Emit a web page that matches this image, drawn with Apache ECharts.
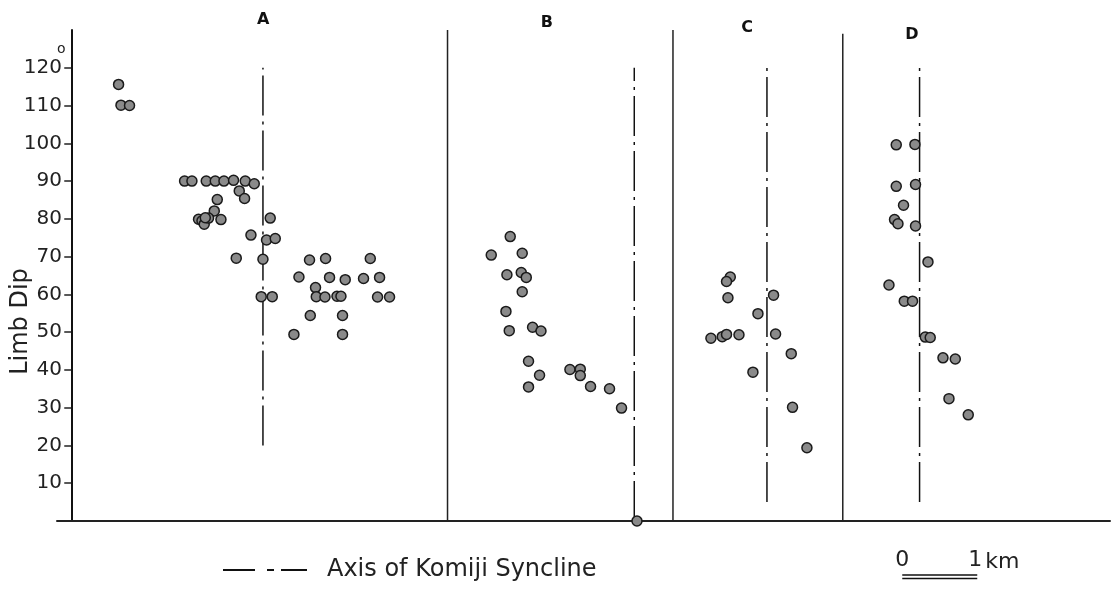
<!DOCTYPE html>
<html>
<head>
<meta charset="utf-8">
<script src="https://cdn.jsdelivr.net/npm/echarts@6/dist/echarts.min.js"></script>
<title>Limb Dip - Komiji Syncline</title>
<style>
    html, body { margin: 0; padding: 0; background: #fff; }
    #main { width: 1115px; height: 589px; }
</style>
</head>
<body>
<div id="main"></div>
<script type="text/javascript">
// distance along section in km (0 = dip axis), limb dip in degrees
var groupA = [
    [0.631, 115.6], [0.663, 110.1], [0.777, 110.0],
    [1.511, 90.0], [1.609, 90.0], [1.800, 90.0], [1.920, 90.0], [2.036, 90.0],
    [2.164, 90.2], [2.320, 90.0], [2.440, 89.3],
    [2.240, 87.4], [2.311, 85.4], [1.947, 85.1], [1.907, 82.1],
    [1.697, 79.9], [1.743, 79.5], [1.773, 78.6], [1.831, 80.2], [1.787, 80.3],
    [1.996, 79.8], [2.653, 80.2],
    [2.396, 75.7], [2.604, 74.4], [2.720, 74.8],
    [2.200, 69.6], [2.556, 69.3], [3.177, 69.1], [3.391, 69.5], [3.987, 69.5],
    [3.036, 64.6], [3.444, 64.5], [3.653, 63.9], [3.897, 64.2], [4.111, 64.5],
    [3.257, 61.8],
    [2.533, 59.4], [2.680, 59.4], [3.267, 59.4], [3.383, 59.3], [3.543, 59.5],
    [3.596, 59.5], [4.084, 59.3], [4.244, 59.3],
    [3.187, 54.4], [3.617, 54.4], [2.969, 49.4], [3.617, 49.4]
];
var groupB = [
    [5.853, 75.3], [5.600, 70.4], [6.013, 70.9], [5.809, 65.2], [6.000, 65.8],
    [6.067, 64.5], [6.013, 60.7], [5.796, 55.5], [5.840, 50.4], [6.151, 51.3],
    [6.263, 50.3], [6.097, 42.3], [6.244, 38.6], [6.097, 35.5], [6.649, 40.1],
    [6.787, 40.2], [6.787, 38.5], [6.924, 35.6], [7.177, 35.0], [7.337, 29.9],
    [7.543, 0]
];
var groupC = [
    [8.787, 64.6], [8.737, 63.4], [8.756, 59.1], [9.364, 59.8], [9.156, 54.9],
    [8.529, 48.4], [8.680, 48.8], [8.737, 49.4], [8.903, 49.3], [9.391, 49.5],
    [9.600, 44.3], [9.089, 39.4], [9.617, 30.1], [9.809, 19.4]
];
var groupD = [
    [11.000, 99.6], [11.249, 99.7], [11.000, 88.6], [11.257, 89.1], [11.097, 83.6],
    [10.977, 79.8], [11.023, 78.7], [11.257, 78.1], [11.423, 68.6], [10.903, 62.5],
    [11.107, 58.2], [11.217, 58.2], [11.387, 48.7], [11.453, 48.6], [11.623, 43.2],
    [11.787, 42.9], [11.703, 32.4], [11.960, 28.1]
];

var panelNames = ['A', 'B', 'C', 'D'];
var panelLabelX = [2.56, 6.34, 9.01, 11.21];
var panelLabelY = [132.7, 131.9, 130.6, 128.8];

var synclineX = [2.556, 7.507, 9.276, 11.311];
var synclineBottom = [20, 0, 5, 5];
var synclineTop = 120;

var dividerX = [5.017, 8.023, 10.287];
var dividerTop = [130, 130, 129];

var yTicks = [10, 20, 30, 40, 50, 60, 70, 80, 90, 100, 110, 120];
var scaleStart = 11.08;   // km where the scale bar starts
var legendName = 'Axis of Komiji Syncline';

var chart = echarts.init(document.getElementById('main'));

var series = [];
[groupA, groupB, groupC, groupD].forEach(function (g, i) {
    series.push({
        name: panelNames[i],
        type: 'scatter',
        data: g,
        symbol: 'circle',
        symbolSize: 10,
        clip: false,
        z: 3,
        itemStyle: { color: '#8a8a8a', borderColor: '#1a1a1a', borderWidth: 1.5, opacity: 1 }
    });
});
synclineX.forEach(function (x, i) {
    series.push({
        name: legendName,
        type: 'line',
        data: [[x, synclineBottom[i]], [x, synclineTop]],
        symbol: 'none',
        color: '#111',
        z: 1,
        lineStyle: { color: '#111', width: 1.5, type: [40, 6, 3, 6] }
    });
});
dividerX.forEach(function (x, i) {
    series.push({
        name: 'divider',
        type: 'line',
        data: [[x, 0], [x, dividerTop[i]]],
        symbol: 'none',
        color: '#222',
        z: 1,
        lineStyle: { color: '#222', width: 1.5 }
    });
});

var option = {
    animation: false,
    backgroundColor: '#fff',
    textStyle: { fontFamily: 'DejaVu Sans' },
    grid: { left: 57, right: 5, top: 30, bottom: 68, outerBoundsMode: 'none', containLabel: false },
    legend: {
        data: [{
            name: legendName,
            // long dash - short dash - long dash sample
            icon: 'path://M0,0H32V2H0Z M44,0H51V2H44Z M58,0H84V2H58Z'
        }],
        left: 218,
        top: 553,
        itemWidth: 84,
        itemHeight: 2,
        itemStyle: { color: '#111', borderWidth: 0 },
        textStyle: { fontSize: 24, color: '#222', fontFamily: 'DejaVu Sans', padding: [0, 0, 0, 15] }
    },
    xAxis: {
        type: 'value',
        min: -0.19,
        max: 13.85,
        axisLine: { show: true, onZero: true, lineStyle: { color: '#222', width: 2 } },
        axisTick: { show: false },
        axisLabel: { show: false },
        splitLine: { show: false }
    },
    yAxis: {
        type: 'value',
        min: 0,
        max: 130,
        interval: 10,
        name: 'Limb Dip',
        nameLocation: 'middle',
        nameGap: 24,
        nameMoveOverlap: false,
        nameTextStyle: { fontSize: 24, color: '#222', fontFamily: 'DejaVu Sans', padding: [0, 92, 0, 0] },
        axisLine: { show: true, onZero: true, lineStyle: { color: '#111', width: 2 } },
        axisTick: { show: true, length: 7, customValues: yTicks, lineStyle: { color: '#222', width: 1.5 } },
        // labels are laid out from the grid edge, which sits left of the axis line
        axisLabel: { margin: -5, fontSize: 20, color: '#222', customValues: yTicks,
            formatter: function (v) { return (v > 0 && v <= 120) ? String(v) : ''; } },
        splitLine: { show: false }
    },
    series: series
};
chart.setOption(option);

// panel letters, degree sign and km scale bar placed through the axes
var graphics = [];
panelNames.forEach(function (n, i) {
    var p = chart.convertToPixel({ gridIndex: 0 }, [panelLabelX[i], panelLabelY[i]]);
    graphics.push({
        type: 'text', x: p[0], y: p[1],
        style: { text: n, fontSize: 16, fontWeight: 'bold', fill: '#111', align: 'center', verticalAlign: 'middle', fontFamily: 'DejaVu Sans' }
    });
});
var deg = chart.convertToPixel({ gridIndex: 0 }, [-0.133, 125]);
graphics.push({
    type: 'text', x: deg[0], y: deg[1],
    style: { text: 'o', fontSize: 14, fill: '#222', align: 'center', verticalAlign: 'middle', fontFamily: 'DejaVu Sans' }
});
var s0 = chart.convertToPixel({ gridIndex: 0 }, [scaleStart, 0]);
var s1 = chart.convertToPixel({ gridIndex: 0 }, [scaleStart + 1, 0]);
graphics.push(
    { type: 'line', shape: { x1: s0[0], y1: 575, x2: s1[0], y2: 575 }, style: { stroke: '#111', lineWidth: 1.5 } },
    { type: 'line', shape: { x1: s0[0], y1: 578.5, x2: s1[0], y2: 578.5 }, style: { stroke: '#111', lineWidth: 1.5 } },
    { type: 'text', x: s0[0], y: 571, style: { text: '0', fontSize: 22, fill: '#222', align: 'center', verticalAlign: 'bottom', fontFamily: 'DejaVu Sans' } },
    { type: 'text', x: s1[0] - 2, y: 571, style: { text: '1', fontSize: 22, fill: '#222', align: 'center', verticalAlign: 'bottom', fontFamily: 'DejaVu Sans' } },
    { type: 'text', x: s1[0] + 8, y: 573, style: { text: 'km', fontSize: 22, fill: '#222', align: 'left', verticalAlign: 'bottom', fontFamily: 'DejaVu Sans' } }
);
chart.setOption({ graphic: graphics });
</script>
</body>
</html>
